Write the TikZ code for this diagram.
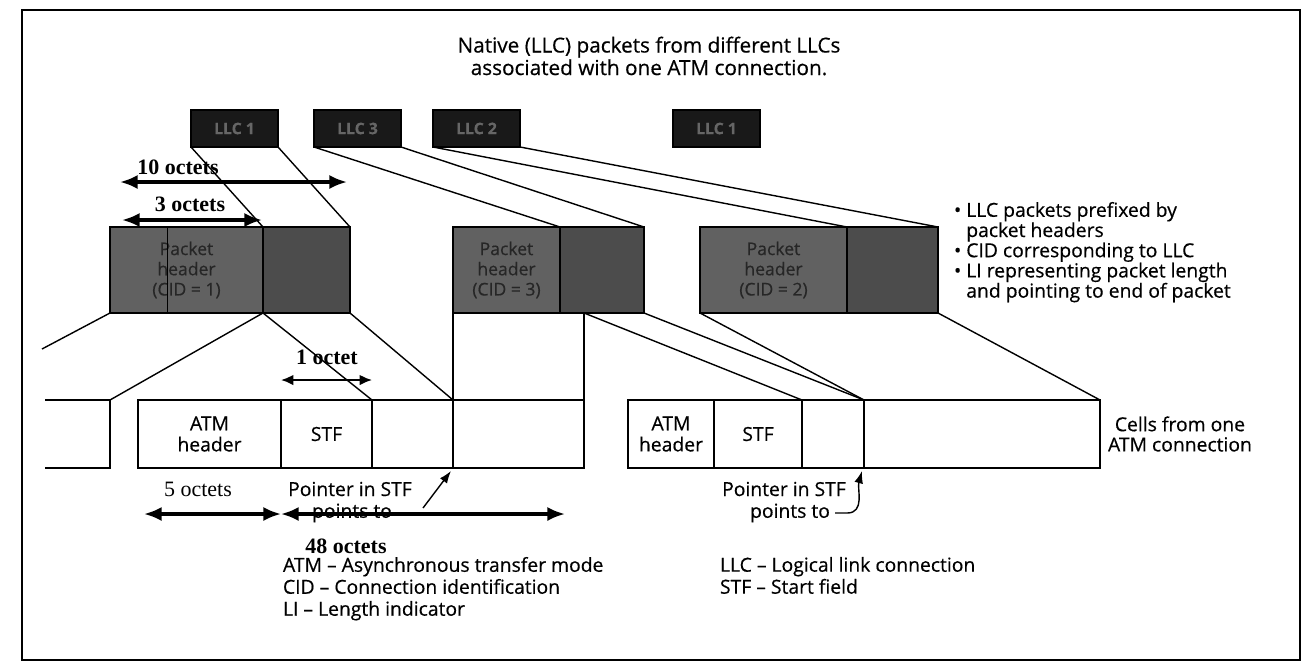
\documentclass[tikz,border=0pt]{standalone}
\usepackage{fontspec}
\setmainfont{Open Sans}[FakeBold=0.5]
\newfontfamily\octetfont{Liberation Serif}
\usetikzlibrary{arrows.meta}

\begin{document}
\begin{tikzpicture}[x=0.02cm, y=-0.02cm,
    every node/.style={inner sep=0pt, outer sep=0pt},
    wd/.style={minimum width=#1*0.02cm},
    llcbox/.style={draw, line width=0.7pt, fill=black!90, text=black!60, minimum height=0.74cm, anchor=north west, font=\fontsize{9}{10}\selectfont\bfseries},
    pkt/.style={draw, line width=0.7pt, fill=black!62, text=black!85, minimum height=1.72cm, anchor=north west, align=center, font=\fontsize{10}{11.5}\selectfont},
    cell/.style={draw, line width=0.7pt, minimum height=1.36cm, anchor=north west, align=center, font=\fontsize{11}{12}\selectfont},
    link/.style={line width=0.8pt},
    dim/.style={line width=1.8pt, {Latex[length=10pt,width=8pt]}-{Latex[length=10pt,width=8pt]}},
    dimthin/.style={line width=1.1pt, {Latex[length=7pt,width=6pt]}-{Latex[length=7pt,width=6pt]}},
    ptr/.style={line width=0.8pt, -{Latex[length=7pt,width=5pt]}},
    octets/.style={font=\octetfont\fontsize{12.5}{14}\selectfont\bfseries},
    txt/.style={font=\fontsize{11}{11.5}\selectfont, align=left}]

\useasboundingbox (0,0) rectangle (1311,670);
\draw[line width=0.6pt] (22,10) rectangle (1300,660);

% title
\node[txt, align=center, font=\fontsize{11.8}{11.6}\selectfont] (title) at (649,56) {Native (LLC) packets from different LLCs\\associated with one ATM connection.};

% native LLC packets
\node[llcbox, wd=87] (llca) at (191,110) {LLC 1};
\node[llcbox, wd=87] (llcb) at (314,110) {LLC 3};
\node[llcbox, wd=87] (llcc) at (433,110) {LLC 2};
\node[llcbox, wd=87] (llcd) at (673,110) {LLC 1};

% packets with packet headers
\node[pkt, wd=153] (hdr1) at (110,227) {Packet\\header\\(CID = 1)};
\node[pkt, wd=87, fill=black!70] (pay1) at (263,227) {};
\draw[line width=0.5pt] ([xshift=1.14cm]hdr1.north west) -- ([xshift=1.14cm]hdr1.south west);
\node[pkt, wd=107] (hdr2) at (453,227) {Packet\\header\\(CID = 3)};
\node[pkt, wd=84, fill=black!70] (pay2) at (560,227) {};
\node[pkt, wd=147] (hdr3) at (700,227) {Packet\\header\\(CID = 2)};
\node[pkt, wd=91, fill=black!70] (pay3) at (847,227) {};

\node[txt, anchor=north west] (notes) at (954,202) {• LLC packets prefixed by\\\phantom{• }packet headers\\• CID corresponding to LLC\\• LI representing packet length\\\phantom{• }and pointing to end of packet};

% cells
\coordinate (prev) at (110,400);
\draw[line width=0.7pt] (45,400) -- (prev) -- (110,468) -- (45,468);
\node[cell, wd=143] (atm1) at (138,400) {ATM\\header};
\node[cell, wd=91] (stf1) at (281,400) {STF};
\node[cell, wd=81] (blk1) at (372,400) {};
\node[cell, wd=131] (big1) at (453,400) {};
\node[cell, wd=86] (atm2) at (628,400) {ATM\\header};
\node[cell, wd=88] (stf2) at (714,400) {STF};
\node[cell, wd=62] (blk2) at (802,400) {};
\node[cell, wd=236] (big2) at (864,400) {};
\node[txt, align=center, anchor=west] (cells) at (1108,434) {Cells from one\\ATM connection};

% mapping lines
\draw[link] (llca.south west) -- (pay1.north west);
\draw[link] (llca.south east) -- (pay1.north east);
\draw[link] (llcb.south west) -- (pay2.north west);
\draw[link] (llcb.south east) -- (pay2.north east);
\draw[link] (llcc.south west) -- (pay3.north west);
\draw[link] (llcc.south east) -- (pay3.north east);
\coordinate (cut) at (42,349);
\draw[link] (hdr1.south west) -- (cut);
\draw[link] (pay1.south west) -- (prev);
\draw[link] (pay1.south west) -- (blk1.north west);
\draw[link] (pay1.south east) -- (big1.north west);
\draw[link] (hdr2.south west) -- (big1.north west);
\draw[link] (big1.north east |- hdr2.south) -- (big1.north east);
\draw[link] (big1.north east |- hdr2.south) -- (blk2.north west);
\draw[link] (pay2.south east) -- (blk2.north east);
\draw[link] (hdr3.south west) -- (big2.north west);
\draw[link] (pay3.south east) -- (big2.north east);

% sizes
\node[octets] (oct10) at (178,167) {10 octets};
\draw[dim] (120,182) -- (347,182);
\node[octets] (oct3) at (190,204) {3 octets};
\draw[dim] (122,220) -- (262,220);
\node[octets] (oct1) at (327,357) {1 octet};
\draw[dimthin] (281,380) -- (372,380);
\node[octets, font=\octetfont\fontsize{12.5}{14}\selectfont] (oct5) at (198,489) {5 octets};
\node[txt] (ptrA) at (350,489) {Pointer in STF};
\node[txt] (ptsA) at (352,513) {points to};
\draw[dim] (144,514) -- (281,514);
\draw[dim] (281,514) -- (565,514);
\node[octets] (oct48) at (346,546) {48 octets};
\draw[ptr] (423,508) -- ([shift={(-2,3)}]big1.south west);

\node[txt] (ptrB) at (784,489) {Pointer in STF};
\node[txt] (ptsB) at (790,513) {points to};
\draw[ptr] ([xshift=3pt]ptsB.east) -- ++(12,0) .. controls +(18,0) and +(-5,18) .. ([shift={(-2,3)}]big2.south west);

% legend
\node[txt, anchor=north west, font=\fontsize{11}{12.5}\selectfont] (legA) at (283,557) {ATM -- Asynchronous transfer mode\\CID -- Connection identification\\LI -- Length indicator};
\node[txt, anchor=north west, font=\fontsize{11}{12.5}\selectfont] (legB) at (720,557) {LLC -- Logical link connection\\STF -- Start field};
\end{tikzpicture}
\end{document}
